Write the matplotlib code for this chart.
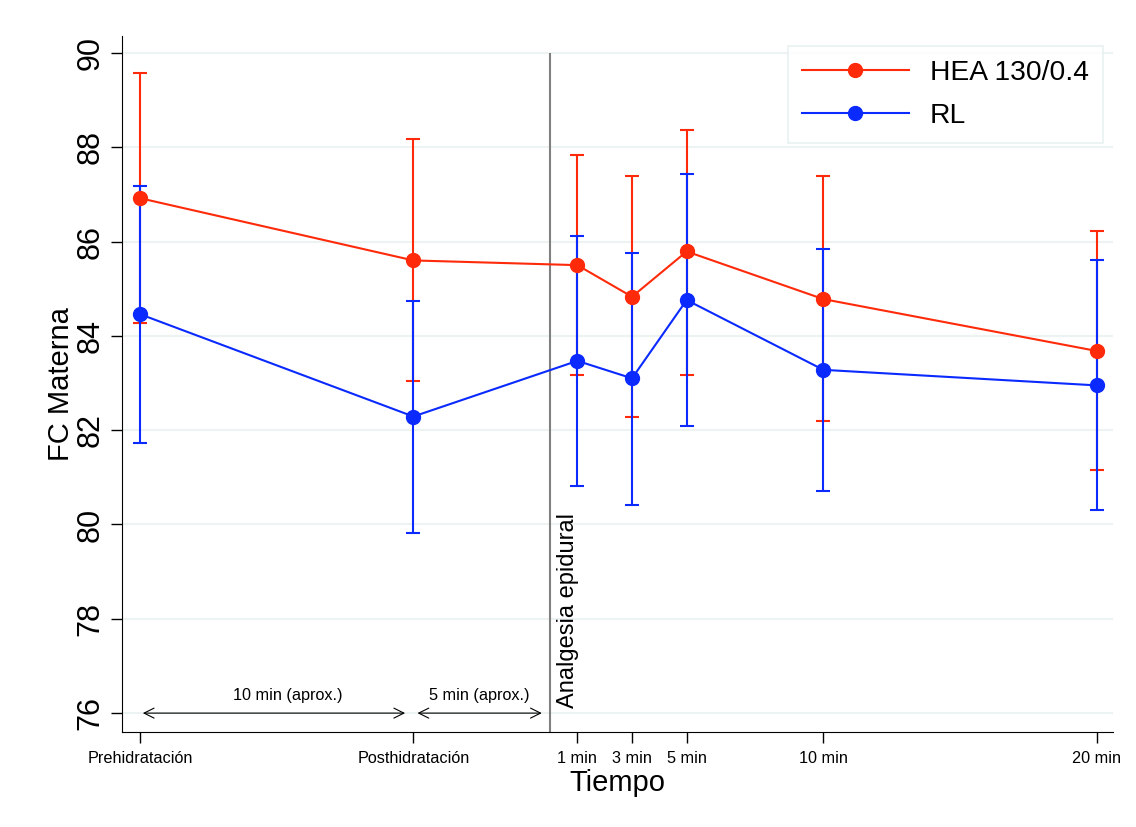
import matplotlib
matplotlib.use("Agg")
import matplotlib.pyplot as plt

plt.rcParams['font.family'] = ['Liberation Sans', 'DejaVu Sans']

# Datos
tiempos = [-15, -5, 1, 3, 5, 10, 20]
etiquetas = ['Prehidratación', 'Posthidratación', '1 min', '3 min', '5 min', '10 min', '20 min']

hea_media = [86.92, 85.60, 85.50, 84.83, 85.79, 84.78, 83.68]
hea_sup = [89.57, 88.18, 87.83, 87.40, 88.37, 87.40, 86.22]
hea_inf = [84.27, 83.04, 83.17, 82.27, 83.16, 82.19, 81.15]

rl_media = [84.46, 82.29, 83.47, 83.10, 84.76, 83.28, 82.95]
rl_sup = [87.17, 84.74, 86.12, 85.76, 87.44, 85.85, 85.60]
rl_inf = [81.73, 79.83, 80.81, 80.41, 82.08, 80.72, 80.31]

rojo = '#ff2a0a'
azul = '#0a2aff'

fig = plt.figure(figsize=(11.36, 8.27), dpi=100)
ax = fig.add_axes([0.1074, 0.1149, 0.8724, 0.8416])

# grid
for yv in [76, 78, 80, 82, 84, 86, 88, 90]:
    ax.axhline(yv, color='#edf3f3', lw=1.5, zorder=0)

# barras de error
ax.errorbar(tiempos, hea_media,
            yerr=[[m - i for m, i in zip(hea_media, hea_inf)], [s - m for m, s in zip(hea_media, hea_sup)]],
            fmt='none', ecolor=rojo, elinewidth=1.5, capsize=5, capthick=1.5, zorder=2)
ax.errorbar(tiempos, rl_media,
            yerr=[[m - i for m, i in zip(rl_media, rl_inf)], [s - m for m, s in zip(rl_media, rl_sup)]],
            fmt='none', ecolor=azul, elinewidth=1.5, capsize=5, capthick=1.5, zorder=3)

# lineas
ax.plot(tiempos, hea_media, color=rojo, lw=1.5, marker='o', markersize=10, label='HEA 130/0.4', zorder=4)
ax.plot(tiempos, rl_media, color=azul, lw=1.5, marker='o', markersize=10, label='RL', zorder=5)

# linea vertical analgesia
ax.vlines(0, 75.6, 90, color='#808080', lw=1.5, zorder=1)
ax.text(0.65, 76.1, 'Analgesia epidural', rotation=90, ha='center', va='bottom', fontsize=17)

# flechas
ax.annotate('', xy=(-5.2, 76), xytext=(-15, 76),
            arrowprops=dict(arrowstyle='<->', color='black', lw=0.8, mutation_scale=18))
ax.annotate('', xy=(-0.2, 76), xytext=(-4.95, 76),
            arrowprops=dict(arrowstyle='<->', color='black', lw=0.8, mutation_scale=18))
ax.text(-9.6, 76.22, '10 min (aprox.)', ha='center', va='bottom', fontsize=11.7)
ax.text(-2.6, 76.22, '5 min (aprox.)', ha='center', va='bottom', fontsize=11.7)

ax.set_xlim(-15.66, 20.6)
ax.set_ylim(75.6, 90.36)
ax.set_xticks(tiempos)
ax.set_xticklabels(etiquetas, fontsize=11.7)
ax.set_yticks([76, 78, 80, 82, 84, 86, 88, 90])
ax.set_yticklabels(['76', '78', '80', '82', '84', '86', '88', '90'], fontsize=22, rotation=90, va='center')
ax.tick_params(axis='both', direction='out', length=8, width=1)
ax.tick_params(axis='x', pad=6)
ax.tick_params(axis='y', pad=4)

ax.spines['top'].set_visible(False)
ax.spines['right'].set_visible(False)

ax.set_ylabel('FC Materna', fontsize=21, labelpad=0)
ax.set_xlabel('Tiempo', fontsize=21, labelpad=2)

leg = ax.legend(loc='upper right', bbox_to_anchor=(0.99, 0.986), borderaxespad=0, fontsize=20.3,
                frameon=True, fancybox=False, handlelength=3.8, borderpad=0.5, labelspacing=0.6,
                handletextpad=0.75)
leg.get_frame().set_edgecolor('#e3eded')
leg.get_frame().set_linewidth(1.2)

plt.savefig('out.png', dpi=100)
